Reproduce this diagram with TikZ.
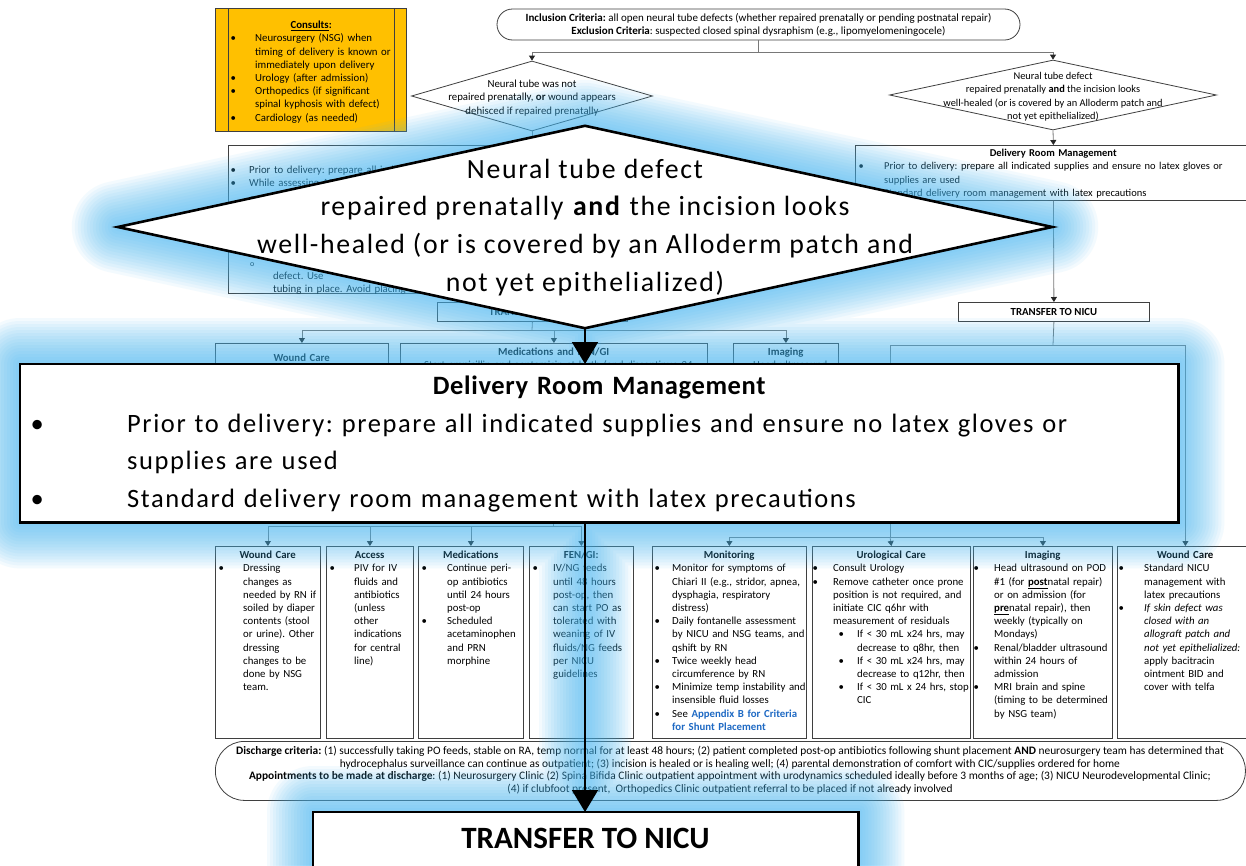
\documentclass[tikz,border=0pt]{standalone}
\usepackage{fontspec}
\setmainfont{Carlito}
\newfontfamily\bigfam[LetterSpace=6]{Carlito}
\newfontfamily\bigtitlefam[LetterSpace=2.5]{Carlito}
\usetikzlibrary{arrows.meta,shapes.geometric}
\frenchspacing

\definecolor{consfill}{RGB}{255,192,0}
\definecolor{edgegray}{RGB}{63,63,63}
\definecolor{wiregray}{RGB}{120,120,120}
\definecolor{glowblue}{RGB}{70,185,245}
\definecolor{refblue}{RGB}{31,106,196}

\newcommand\smallsz{\fontsize{10.8}{13.2}\selectfont}
\newcommand\drmsz{\fontsize{10.5}{13.2}\selectfont}
\newcommand\incsz{\fontsize{11}{13}\selectfont}
\newcommand\dissz{\fontsize{11.4}{12.7}\selectfont}
\newcommand\bigsz{\bigfam\fontsize{26.5}{37.5}\selectfont}
\newcommand\bigdiasz{\bigfam\fontsize{27.8}{37.7}\selectfont}
% bulleted paragraph: #1 bullet offset, #2 hanging indent, #3 lines
\newcommand\bitem[3]{\par\noindent\hangindent=#2\hangafter=1\hbox to #2{\hspace*{#1}\strut\textbullet\hfil}#3\par}
\newcommand\oitem[3]{\par\noindent\hangindent=#2\hangafter=1\hbox to #2{\hspace*{#1}\strut{\fontsize{8}{8}\selectfont o}\hfil}#3\par}
\newcommand\ttl[1]{{\centering\strut\textbf{#1}\par}}
\newcommand\emptyrow{\par\noindent\strut\par}

\tikzset{
  card/.style={draw=edgegray, line width=0.8pt, fill=white, inner sep=0pt, anchor=north west},
  blurb/.style={anchor=north west, inner sep=0pt, align=left, font=\smallsz},
  wire/.style={draw=wiregray, line width=0.8pt},
  wirearrow/.style={wire, -{Triangle[length=5pt,width=6pt,color=black!85]}},
  heavyarrow/.style={draw=black, line width=1.8pt, -{Triangle[length=22pt,width=26pt]}},
  bigshape/.style={draw=black, line width=2.6pt, fill=white, inner sep=0pt},
}

\begin{document}
\begin{tikzpicture}[x=1pt, y=-1pt]
\useasboundingbox (0,0) rectangle (1246,865);
\fill[white] (0,0) rectangle (1246,865);

% ---------- consults ----------
\node[card, fill=consfill, minimum width=191pt, minimum height=123pt] (cons) at (215,8) {};
\draw[edgegray, line width=0.8pt] ([xshift=13pt]cons.north west) -- ([xshift=13pt]cons.south west);
\draw[edgegray, line width=0.8pt] ([xshift=-12pt]cons.north east) -- ([xshift=-12pt]cons.south east);
\node[blurb, text width=166pt] (constext) at (228,19.3) {%
\ttl{\underline{Consults}:}
\bitem{2.3pt}{27pt}{Neurosurgery (NSG) when\newline timing of delivery is known or\newline immediately upon delivery}
\bitem{2.3pt}{27pt}{Urology (after admission)}
\bitem{2.3pt}{27pt}{Orthopedics (if significant\newline spinal kyphosis with defect)}
\bitem{2.3pt}{27pt}{Cardiology (as needed)}};

% ---------- entry criteria ----------
\node[draw=edgegray, line width=0.8pt, fill=white, rounded corners=15.5pt, minimum width=523pt, minimum height=31pt, inner sep=0pt] (inc) at (758.5,24.5) {};
\node[anchor=north, inner sep=0pt, align=center, font=\incsz] (inct) at (758.5,12.3) {\strut\textbf{Inclusion Criteria:} all open neural tube defects (whether repaired prenatally or pending postnatal repair)\\\textbf{Exclusion Criteria}: suspected closed spinal dysraphism (e.g., lipomyelomeningocele)};

% ---------- decisions ----------
\node[diamond, draw=edgegray, line width=0.8pt, fill=white, minimum width=241pt, minimum height=70pt, inner sep=0pt] (ldia) at (532,96) {};
\node[anchor=north, inner sep=0pt, align=center, font=\smallsz] (ldiat) at (532,78.3) {\strut Neural tube was not\\repaired prenatally, \textbf{or} wound appears\\dehisced if repaired prenatally};
\node[diamond, draw=edgegray, line width=0.8pt, fill=white, minimum width=327pt, minimum height=70pt, inner sep=0pt] (rdia) at (1053,95) {};
\node[anchor=north, inner sep=0pt, align=center, font=\fontsize{10.4}{13.2}\selectfont] (rdiat) at (1053,70.3) {\strut Neural tube defect\\repaired prenatally \textbf{and} the incision looks\\well-healed (or is covered by an Alloderm patch and\\not yet epithelialized)};

\coordinate (tsplit) at (758.5,52);
\draw[wire] (inc.south) -- (tsplit);
\draw[wirearrow] (tsplit) -| (ldia.north);
\draw[wirearrow] (tsplit) -| (rdia.north);

% ---------- delivery room, both branches ----------
\node[card, minimum width=412pt, minimum height=148pt] (ldrm) at (228,145) {};
\node[blurb, text width=400pt] (ldrmt) at (228,160.3) {%
\bitem{2.3pt}{21pt}{Prior to delivery: prepare all indicated supplies}
\bitem{2.3pt}{21pt}{While assessing ABCs}
\oitem{22pt}{47pt}{Cover}
\emptyrow\emptyrow\emptyrow\emptyrow
\oitem{22pt}{45pt}{\newline defect. Use\newline tubing in place. Avoid placing}};
\node[card, minimum width=396pt, minimum height=55pt] (rdrm) at (855,145) {};
\node[blurb, text width=396pt, font=\drmsz] (rdrmt) at (855,147.3) {%
\ttl{Delivery Room Management}
\bitem{3.3pt}{29pt}{Prior to delivery: prepare all indicated supplies and ensure no latex gloves or\newline supplies are used}
\bitem{3.3pt}{29pt}{Standard delivery room management with latex precautions}};
\draw[wirearrow] (ldia.south) -- (ldia.south |- ldrm.north);
\draw[wirearrow] (rdia.south) -- (rdrm.north);

% ---------- transfer ----------
\node[card, minimum width=190pt, minimum height=19pt, font=\smallsz\bfseries] (ltr) at (437,302) {TRANSFER TO NICU};
\node[card, minimum width=191pt, minimum height=19pt, font=\smallsz\bfseries] (rtr) at (958,302) {TRANSFER TO NICU};
\draw[wirearrow] (ltr.north |- ldrm.south) -- (ltr.north);
\draw[wirearrow] (rdrm.south) -- (rtr.north);

% ---------- postnatal-repair branch, first row ----------
\node[card, minimum width=173pt, minimum height=162pt] (wcA) at (215,343) {};
\node[blurb, text width=173pt] (wcAt) at (215,351.6) {\ttl{Wound Care}};
\node[card, minimum width=307pt, minimum height=162pt] (medA) at (400,343) {};
\node[blurb, text width=307pt] (medAt) at (400,346) {\ttl{Medications and FEN/GI}
\bitem{5pt}{24pt}{Start ampicillin and gentamicin at birth (and discontinue 24}};
\node[card, minimum width=105pt, minimum height=162pt] (imgA) at (733,343) {};
\node[blurb, text width=105pt] (imgAt) at (733,346) {\ttl{Imaging}
\bitem{3pt}{20pt}{Head ultrasound}};
\coordinate (lsplit) at (532,330);
\draw[wire] (ltr.south) -- (lsplit);
\draw[wirearrow] (lsplit) -| (wcA.north);
\draw[wirearrow] (lsplit) -| (medA.north);
\draw[wirearrow] (lsplit) -| (imgA.north);

% ---------- lower row, left ----------
\node[card, minimum width=105pt, minimum height=192pt] (wcB) at (215,546) {};
\node[blurb, text width=105pt] (wcBt) at (215,549.3) {\ttl{Wound Care}
\bitem{3.3pt}{28pt}{Dressing\newline changes as\newline needed by RN if\newline soiled by diaper\newline contents (stool\newline or urine). Other\newline dressing\newline changes to be\newline done by NSG\newline team.}};
\node[card, minimum width=87pt, minimum height=192pt] (acc) at (326,546) {};
\node[blurb, text width=87pt] (acct) at (326,549.3) {\ttl{Access}
\bitem{3.3pt}{28pt}{PIV for IV\newline fluids and\newline antibiotics\newline (unless\newline other\newline indications\newline for central\newline line)}};
\node[card, minimum width=105pt, minimum height=192pt] (medB) at (418,546) {};
\node[blurb, text width=105pt] (medBt) at (418,549.3) {\ttl{Medications}
\bitem{3.3pt}{29pt}{Continue peri-\newline op antibiotics\newline until 24 hours\newline post-op}
\bitem{3.3pt}{29pt}{Scheduled\newline acetaminophen\newline and PRN\newline morphine}};
\node[card, minimum width=104pt, minimum height=192pt] (fen) at (529,546) {};
\node[blurb, text width=104pt] (fent) at (529,549.3) {\ttl{FEN/GI:}
\bitem{3.3pt}{24pt}{IV/NG feeds\newline until 48 hours\newline post-op, then\newline can start PO as\newline tolerated with\newline weaning of IV\newline fluids/NG feeds\newline per NICU\newline guidelines}};
\coordinate (lsplit2) at (553.5,526);
\draw[wire] (medA.south) -- (lsplit2);
\draw[wirearrow] (lsplit2) -| (wcB.north);
\draw[wirearrow] (lsplit2) -| (acc.north);
\draw[wirearrow] (lsplit2) -| (medB.north);
\draw[wirearrow] (lsplit2) -| (fen.north);

% ---------- lower row, right ----------
\node[card, minimum width=154pt, minimum height=192pt] (mon) at (652,546) {};
\node[blurb, text width=154pt] (mont) at (652,549.3) {\ttl{Monitoring}
\bitem{2.3pt}{20pt}{Monitor for symptoms of\newline Chiari II (e.g., stridor, apnea,\newline dysphagia, respiratory\newline distress)}
\bitem{2.3pt}{20pt}{Daily fontanelle assessment\newline by NICU and NSG teams, and\newline qshift by RN}
\bitem{2.3pt}{20pt}{Twice weekly head\newline circumference by RN}
\bitem{2.3pt}{20pt}{Minimize temp instability and\newline insensible fluid losses}
\bitem{2.3pt}{20pt}{See \textcolor{refblue}{\textbf{Appendix B for Criteria\newline for Shunt Placement}}}};
\node[card, minimum width=158pt, minimum height=192pt] (uro) at (812,546) {};
\node[blurb, text width=158pt] (urot) at (812,549.3) {\ttl{Urological Care}
\bitem{0.3pt}{21pt}{Consult Urology}
\bitem{0.3pt}{21pt}{Remove catheter once prone\newline position is not required, and\newline initiate CIC q6hr with\newline measurement of residuals}
\bitem{26.3pt}{45pt}{If < 30 mL x24 hrs, may\newline decrease to q8hr, then}
\bitem{26.3pt}{45pt}{If < 30 mL x24 hrs, may\newline decrease to q12hr, then}
\bitem{26.3pt}{45pt}{If < 30 mL x 24 hrs, stop\newline CIC}};
\node[card, minimum width=139pt, minimum height=192pt] (imgB) at (973,546) {};
\node[blurb, text width=139pt] (imgBt) at (973,549.3) {\ttl{Imaging}
\bitem{0.3pt}{21pt}{Head ultrasound on POD\newline \#1 (for \underline{\textbf{post}}natal repair)\newline or on admission (for\newline \underline{\textbf{pre}}natal repair), then\newline weekly (typically on\newline Mondays)}
\bitem{0.3pt}{21pt}{Renal/bladder ultrasound\newline within 24 hours of\newline admission}
\bitem{0.3pt}{21pt}{MRI brain and spine\newline (timing to be determined\newline by NSG team)}};
\node[card, minimum width=136pt, minimum height=192pt] (wcC) at (1117,546) {};
\node[blurb, text width=136pt] (wcCt) at (1117,549.3) {\ttl{Wound Care}
\bitem{1.3pt}{27pt}{Standard NICU\newline management with\newline latex precautions}
\bitem{1.3pt}{27pt}{\textit{If skin defect was\newline closed with an\newline allograft patch and\newline not yet epithelialized:}\newline apply bacitracin\newline ointment BID and\newline cover with telfa}};
\coordinate (rsplit) at (1053,345);
\coordinate (rsplit2) at (890,537);
\draw[wire] (rtr.south) -- (rsplit);
\draw[wirearrow] (rsplit) -| (wcC.north);
\draw[wire] (rsplit) -| (rsplit2);
\draw[wirearrow] (rsplit2) -| (mon.north);
\draw[wirearrow] (rsplit2) -- (uro.north);
\draw[wirearrow] (rsplit2) -| (imgB.north);

% ---------- discharge ----------
\node[draw=edgegray, line width=0.8pt, fill=white, rounded corners=29pt, minimum width=1030pt, minimum height=59pt, inner sep=0pt, anchor=north west] (dis) at (215,741) {};
\node[anchor=north, inner sep=0pt, align=center, font=\dissz] (dist) at (730,745.3) {\strut\textbf{Discharge criteria:} (1) successfully taking PO feeds, stable on RA, temp normal for at least 48 hours; (2) patient completed post-op antibiotics following shunt placement \textbf{AND} neurosurgery team has determined that\\
hydrocephalus surveillance can continue as outpatient; (3) incision is healed or is healing well; (4) parental demonstration of comfort with CIC/supplies ordered for home\\
\textbf{Appointments to be made at discharge}: (1) Neurosurgery Clinic (2) Spina Bifida Clinic outpatient appointment with urodynamics scheduled ideally before 3 months of age; (3) NICU Neurodevelopmental Clinic;\\
(4) if clubfoot present,\ \ Orthopedics Clinic outpatient referral to be placed if not already involved};

% ---------- enlarged call-outs ----------
\coordinate (bdiac) at (585,227);
\node[diamond, minimum width=934pt, minimum height=202pt, inner sep=0pt] (bdia) at (bdiac) {};
\node[minimum width=1158pt, minimum height=158pt, inner sep=0pt, anchor=north west] (bdrm) at (20,364) {};
\node[minimum width=545pt, minimum height=90pt, inner sep=0pt, anchor=north west] (btr) at (313,812) {};
\coordinate (bj1) at (bdia.south |- bdrm.north);
\coordinate (bj2) at (bdia.south |- bdrm.south);
\coordinate (bj3) at (bdia.south |- btr.north);

% soft halo, built from many faint strokes
\foreach \w in {92,86,80,74,68,62,56,50,44,38,32,26,20,14,8}{
  \begin{scope}[transparency group, opacity=0.062]
    \draw[glowblue, line width=\w pt, line join=round]
      (bdia.north) -- (bdia.east) -- (bdia.south) -- (bdia.west) -- cycle
      (bdrm.north west) rectangle (bdrm.south east)
      (btr.north west) rectangle (btr.south east)
      (bdia.south) -- (bj1) (bj2) -- (bj3);
  \end{scope}
}

\draw[bigshape] (bdia.north) -- (bdia.east) -- (bdia.south) -- (bdia.west) -- cycle;
\node[anchor=north, inner sep=0pt, align=center, font=\bigdiasz] (bdiat) at (585,151.6) {\strut Neural tube defect\\repaired prenatally \textbf{and} the incision looks\\well-healed (or is covered by an Alloderm patch and\\not yet epithelialized)};

\draw[bigshape] (bdrm.north west) rectangle (bdrm.south east);
\node[anchor=north west, inner sep=0pt, align=left, text width=1158pt, font=\bigsz] (bdrmt) at (20,368.2) {%
{\centering\strut\bigtitlefam\bfseries Delivery Room Management\par}
\bitem{10.5pt}{107pt}{Prior to delivery: prepare all indicated supplies and ensure no latex gloves or\newline supplies are used}
\bitem{10.5pt}{107pt}{Standard delivery room management with latex precautions}};

\draw[bigshape] (btr.north west) rectangle (btr.south east);
\node[inner sep=0pt, font=\fontsize{31}{36}\selectfont\bfseries] (btrt) at (585.5,838) {TRANSFER TO NICU};

\draw[heavyarrow] (bdia.south) -- (bj1);
\draw[heavyarrow] (bj2) -- (bj3);
\end{tikzpicture}
\end{document}
